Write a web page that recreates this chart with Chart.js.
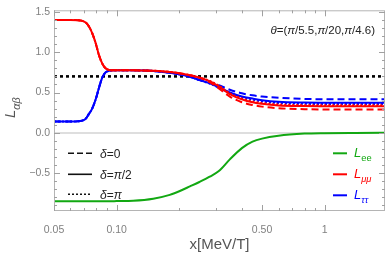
<!DOCTYPE html>
<html>
<head>
<meta charset="utf-8">
<script src="https://cdn.jsdelivr.net/npm/chart.js@4.4.1/dist/chart.umd.min.js"></script>
<style>
  html, body { margin: 0; padding: 0; background: #fff; }
  #grafico { display: block; }
</style>
</head>
<body>
<canvas id="grafico" width="390" height="255"></canvas>
<script>
// === DATA ===
const xGrid = [0.05, 0.06, 0.065, 0.068, 0.071, 0.0735, 0.0763, 0.0792, 0.0822, 0.0853, 0.0885,
  0.092, 0.096, 0.1, 0.12, 0.15, 0.18, 0.2, 0.225, 0.25, 0.28, 0.31, 0.35, 0.4, 0.45, 0.5,
  0.6, 0.8, 1.0, 1.4, 2.0];

const Lee = [-0.85, -0.85, -0.85, -0.85, -0.85, -0.85, -0.85, -0.85, -0.85, -0.85, -0.85,
  -0.849, -0.848, -0.847, -0.843, -0.818, -0.77, -0.725, -0.665, -0.61, -0.545, -0.475, -0.33, -0.19, -0.11, -0.072,
  -0.036, -0.01, -0.004, -0.001, 0];

// L_mumu for delta = 0, pi/2, pi
const LmmD0 = [1.40, 1.40, 1.397, 1.39, 1.368, 1.322, 1.237, 1.117, 0.965, 0.86, 0.8,
  0.779, 0.775, 0.775, 0.775, 0.77, 0.755, 0.74, 0.715, 0.685, 0.63, 0.55, 0.45, 0.38, 0.345, 0.325,
  0.305, 0.293, 0.29, 0.289, 0.289];
const LmmD90 = [1.40, 1.40, 1.397, 1.39, 1.368, 1.322, 1.237, 1.117, 0.965, 0.86, 0.8,
  0.779, 0.775, 0.775, 0.775, 0.77, 0.755, 0.74, 0.715, 0.685, 0.64, 0.575, 0.48, 0.415, 0.378, 0.36,
  0.34, 0.332, 0.33, 0.329, 0.329];
const LmmD180 = [1.40, 1.40, 1.397, 1.39, 1.368, 1.322, 1.237, 1.117, 0.965, 0.86, 0.8,
  0.779, 0.775, 0.775, 0.775, 0.77, 0.755, 0.74, 0.715, 0.685, 0.645, 0.585, 0.49, 0.425, 0.39, 0.37,
  0.352, 0.343, 0.342, 0.341, 0.341];

// L_tautau for delta = 0, pi/2, pi
const LttD0 = [0.14, 0.14, 0.143, 0.15, 0.175, 0.232, 0.30, 0.41, 0.555, 0.685, 0.75,
  0.77, 0.775, 0.775, 0.775, 0.768, 0.745, 0.725, 0.695, 0.655, 0.63, 0.59, 0.535, 0.49, 0.465, 0.45,
  0.435, 0.42, 0.417, 0.415, 0.415];
const LttD90 = [0.14, 0.14, 0.143, 0.15, 0.175, 0.232, 0.30, 0.41, 0.555, 0.685, 0.75,
  0.77, 0.775, 0.775, 0.775, 0.768, 0.745, 0.725, 0.695, 0.655, 0.615, 0.565, 0.50, 0.45, 0.425, 0.405,
  0.385, 0.376, 0.374, 0.373, 0.373];
const LttD180 = [0.14, 0.14, 0.143, 0.15, 0.175, 0.232, 0.30, 0.41, 0.555, 0.685, 0.75,
  0.77, 0.775, 0.775, 0.775, 0.768, 0.745, 0.725, 0.695, 0.655, 0.61, 0.56, 0.49, 0.435, 0.41, 0.39,
  0.37, 0.36, 0.358, 0.358, 0.358];

const refX = [0.05, 1.95];
const refY = [0.7, 0.7];

const xTicks = [0.05, 0.1, 0.5, 1];
const xTickLabels = ["0.05", "0.10", "0.50", "1"];
const yTicks = [-0.5, 0, 0.5, 1.0, 1.5];
const yTickLabels = ["\u22120.5", "0.0", "0.5", "1.0", "1.5"];

// === STYLES ===
const FONT = '"Liberation Sans", Arial, sans-serif';
const ROJO = "#ff0000", AZUL = "#0000ff", VERDE = "#12a812";
const DASH = [7, 4], DOT = [2, 2];

function serie(xs, ys) {
  return xs.map((x, i) => ({ x: x, y: ys[i] }));
}

function linea(data, color, dash) {
  return {
    data: data,
    borderColor: color,
    borderWidth: 2,
    borderDash: dash || [],
    pointRadius: 0,
    fill: false,
    cubicInterpolationMode: "monotone"
  };
}

// draws text made of runs: [text, italic, subscript]
function dibujarTexto(ctx, runs, x, y, size, color) {
  ctx.fillStyle = color;
  ctx.textAlign = "left";
  ctx.textBaseline = "alphabetic";
  for (const [txt, it, sub] of runs) {
    const fs = sub ? size * 0.72 : size;
    ctx.font = (it ? "italic " : "") + fs + "px " + FONT;
    ctx.fillText(txt, x, y + (sub ? size * 0.3 : 0));
    x += ctx.measureText(txt).width;
  }
  return x;
}

function anchoTexto(ctx, runs, size) {
  let w = 0;
  for (const [txt, it, sub] of runs) {
    const fs = sub ? size * 0.72 : size;
    ctx.font = (it ? "italic " : "") + fs + "px " + FONT;
    w += ctx.measureText(txt).width;
  }
  return w;
}

// === FRAME, TICKS, LEGENDS ===
const decoracion = {
  id: "decoracion",
  afterDraw(chart) {
    const { ctx, chartArea: a, scales } = chart;
    const sx = scales.x, sy = scales.y;
    ctx.save();

    // frame
    ctx.strokeStyle = "#b4b4b4";
    ctx.lineWidth = 1;
    ctx.strokeRect(a.left + 0.5, a.top + 0.5, a.right - a.left - 1, a.bottom - a.top - 1);

    // inward ticks
    ctx.strokeStyle = "#a0a0a0";
    ctx.beginPath();
    for (let i = -9; i <= 15; i++) {
      const py = Math.round(sy.getPixelForValue(i / 10)) + 0.5;
      const len = i % 5 === 0 ? 6 : 3;
      ctx.moveTo(a.left, py); ctx.lineTo(a.left + len, py);
      ctx.moveTo(a.right, py); ctx.lineTo(a.right - len, py);
    }
    const decadas = [0.01, 0.1, 1];
    for (const d of decadas) {
      for (let k = 1; k <= 9; k++) {
        const v = d * k;
        if (v < 0.0499 || v > 1.95) continue;
        const px = Math.round(sx.getPixelForValue(v)) + 0.5;
        const len = (k === 1 || k === 5) ? 6 : 3;
        ctx.moveTo(px, a.bottom); ctx.lineTo(px, a.bottom - len);
        ctx.moveTo(px, a.top); ctx.lineTo(px, a.top + len);
      }
    }
    ctx.stroke();

    // y axis title  L_{alpha beta}
    ctx.save();
    ctx.translate(15, 118);
    ctx.rotate(-Math.PI / 2);
    dibujarTexto(ctx, [["L", true, false], ["\u03b1\u03b2", true, true]], 0, 0, 15, "#555");
    ctx.restore();

    // theta label
    const theta = [["\u03b8", true], ["=(", false], ["\u03c0", true], ["/5.5,", false],
      ["\u03c0", true], ["/20,", false], ["\u03c0", true], ["/4.6)", false]];
    const wT = anchoTexto(ctx, theta, 11.5);
    dibujarTexto(ctx, theta, a.right - 10 - wT, a.top + 24, 11.5, "#222");

    // left legend: delta line styles
    const filasIzq = [
      { dash: [6, 3], runs: [["\u03b4", true], ["=0", false]] },
      { dash: [], runs: [["\u03b4", true], ["=", false], ["\u03c0", true], ["/2", false]] },
      { dash: [2, 2], runs: [["\u03b4", true], ["=", false], ["\u03c0", true]] }
    ];
    const filasY = [a.top + 143, a.top + 164, a.top + 184];
    filasIzq.forEach((f, i) => {
      ctx.strokeStyle = "#111";
      ctx.lineWidth = 1.6;
      ctx.setLineDash(f.dash);
      ctx.beginPath();
      ctx.moveTo(a.left + 14, filasY[i]);
      ctx.lineTo(a.left + 38, filasY[i]);
      ctx.stroke();
      ctx.setLineDash([]);
      dibujarTexto(ctx, f.runs, a.left + 46, filasY[i] + 4.5, 12, "#222");
    });

    // right legend: flavours
    const filasDer = [
      { color: VERDE, runs: [["L", true], ["ee", false, true]] },
      { color: ROJO, runs: [["L", true], ["\u03bc\u03bc", true, true]] },
      { color: AZUL, runs: [["L", true], ["\u03c4\u03c4", true, true]] }
    ];
    filasDer.forEach((f, i) => {
      const yy = filasY[i] + (i === 2 ? 1 : 0);
      ctx.strokeStyle = f.color;
      ctx.lineWidth = 2;
      ctx.beginPath();
      ctx.moveTo(a.right - 52, yy);
      ctx.lineTo(a.right - 38, yy);
      ctx.stroke();
      dibujarTexto(ctx, f.runs, a.right - 31, yy + 4, 13, f.color);
    });

    ctx.restore();
  }
};

// === CHART ===
new Chart(document.getElementById("grafico"), {
  type: "line",
  data: {
    datasets: [
      linea(serie(xGrid, LmmD0), ROJO, DASH),
      linea(serie(xGrid, LmmD90), ROJO),
      linea(serie(xGrid, LmmD180), ROJO, DOT),
      linea(serie(xGrid, LttD0), AZUL, DASH),
      linea(serie(xGrid, LttD90), AZUL),
      linea(serie(xGrid, LttD180), AZUL, DOT),
      linea(serie(xGrid, Lee), VERDE),
      Object.assign(linea(serie(refX, refY), "#000", [3, 3]), { borderWidth: 2.6, cubicInterpolationMode: "default" })
    ]
  },
  options: {
    responsive: false,
    animation: false,
    layout: { padding: { top: 5, right: 5, left: 0, bottom: 0 } },
    plugins: { legend: { display: false }, tooltip: { enabled: false } },
    scales: {
      x: {
        type: "logarithmic",
        min: 0.05,
        max: 1.95,
        afterBuildTicks: (s) => { s.ticks = xTicks.map(v => ({ value: v })); },
        afterFit: (s) => { s.height = 44; },
        ticks: {
          autoSkip: false,
          maxRotation: 0,
          padding: 5,
          color: "#808080",
          font: { family: FONT, size: 10.5 },
          callback: (v) => xTickLabels[xTicks.indexOf(v)]
        },
        grid: { display: false },
        border: { display: false },
        title: {
          display: true,
          text: "x[MeV/T]",
          color: "#555",
          font: { family: FONT, size: 15, lineHeight: 1.2 },
          padding: { top: 0, bottom: 1 }
        }
      },
      y: {
        min: -0.97,
        max: 1.52,
        afterBuildTicks: (s) => { s.ticks = yTicks.map(v => ({ value: v })); },
        afterFit: (s) => { s.width = 54; },
        ticks: {
          padding: 4,
          color: "#808080",
          font: { family: FONT, size: 10.5 },
          callback: (v) => yTickLabels[yTicks.indexOf(v)]
        },
        grid: {
          drawTicks: false,
          lineWidth: 2,
          color: (c) => (c.tick && c.tick.value === 0 ? "#dedede" : "rgba(0,0,0,0)")
        },
        border: { display: false }
      }
    }
  },
  plugins: [decoracion]
});
</script>
</body>
</html>
